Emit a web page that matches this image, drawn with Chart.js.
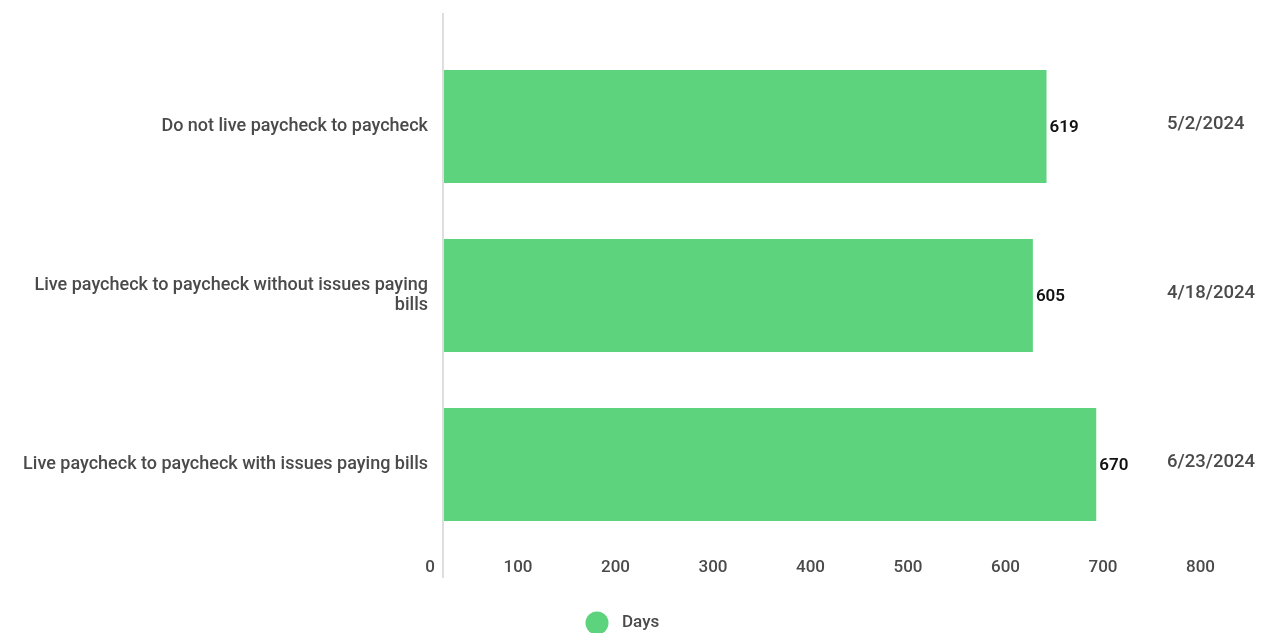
<!DOCTYPE html>
<html>
<head>
<meta charset="utf-8">
<script src="https://cdn.jsdelivr.net/npm/chart.js@4/dist/chart.umd.min.js"></script>
<style>
html,body{margin:0;padding:0;background:#fff;}
#wrap{width:1264px;height:633px;position:relative;}
</style>
</head>
<body>
<div id="wrap"><canvas id="c" width="1264" height="633"></canvas></div>
<script>
const categories = [
  "Do not live paycheck to paycheck",
  ["Live paycheck to paycheck without issues paying", "bills"],
  "Live paycheck to paycheck with issues paying bills"
];
const days = [619, 605, 670];
const dates = ["5/2/2024", "4/18/2024", "6/23/2024"];
const xTicks = [0, 100, 200, 300, 400, 500, 600, 700, 800];
const seriesName = "Days";

const GREEN = "rgb(94,211,125)";
const TEXT = "#4a4a4a";
const FONT = "Roboto, 'Noto Sans', sans-serif";

const extras = {
  id: "extras",
  afterDatasetsDraw(chart) {
    const ctx = chart.ctx;
    const x = chart.scales.x, y = chart.scales.y;
    const area = chart.chartArea;
    ctx.save();
    // axis line at zero
    ctx.strokeStyle = "#dedede";
    ctx.lineWidth = 2;
    const x0 = Math.round(x.getPixelForValue(0));
    ctx.beginPath();
    ctx.moveTo(x0, area.top - 29);
    ctx.lineTo(x0, area.bottom + 29);
    ctx.stroke();
    // value labels
    const meta = chart.getDatasetMeta(0);
    ctx.font = "600 17px " + FONT;
    ctx.fillStyle = "#111";
    ctx.textAlign = "left";
    ctx.textBaseline = "middle";
    meta.data.forEach((bar, i) => {
      ctx.fillText(String(days[i]), bar.x + 3, bar.y + 1);
    });
    // date labels on right
    ctx.font = "500 18.5px " + FONT;
    ctx.fillStyle = TEXT;
    dates.forEach((d, i) => {
      ctx.fillText(d, area.right - 56, y.getPixelForValue(i) - 2);
    });
    // legend
    const cx = chart.width / 2 - 35, cy = chart.height - 10;
    ctx.fillStyle = GREEN;
    ctx.beginPath();
    ctx.arc(cx, cy, 11.5, 0, Math.PI * 2);
    ctx.fill();
    ctx.font = "500 17px " + FONT;
    ctx.fillStyle = TEXT;
    ctx.fillText(chart.data.datasets[0].label, cx + 25, cy);
    ctx.restore();
  }
};

new Chart(document.getElementById("c"), {
  type: "bar",
  data: {
    labels: categories,
    datasets: [{
      label: seriesName,
      data: days,
      backgroundColor: GREEN,
      borderWidth: 0,
      categoryPercentage: 1,
      barPercentage: 0.67
    }]
  },
  options: {
    indexAxis: "y",
    responsive: false,
    animation: false,
    maintainAspectRatio: false,
    layout: { padding: { top: 42, right: 41, left: 0, bottom: 0 } },
    scales: {
      x: {
        min: 0, max: 800,
        afterBuildTicks(axis) { axis.ticks = xTicks.map(v => ({ value: v })); },
        afterFit(axis) { axis.height = 84; },
        grid: { display: false, drawTicks: false },
        border: { display: false },
        ticks: {
          align: "end",
          labelOffset: -8,
          padding: 9,
          color: TEXT,
          font: { family: FONT, size: 17, weight: "500" }
        }
      },
      y: {
        afterFit(axis) { axis.width = 443; },
        grid: { display: false, drawTicks: false },
        border: { display: false },
        ticks: {
          padding: 15,
          color: TEXT,
          font: { family: FONT, size: 18, weight: "500", lineHeight: 1.12 }
        }
      }
    },
    plugins: {
      legend: { display: false },
      tooltip: { enabled: false }
    }
  },
  plugins: [extras]
});
</script>
</body>
</html>
